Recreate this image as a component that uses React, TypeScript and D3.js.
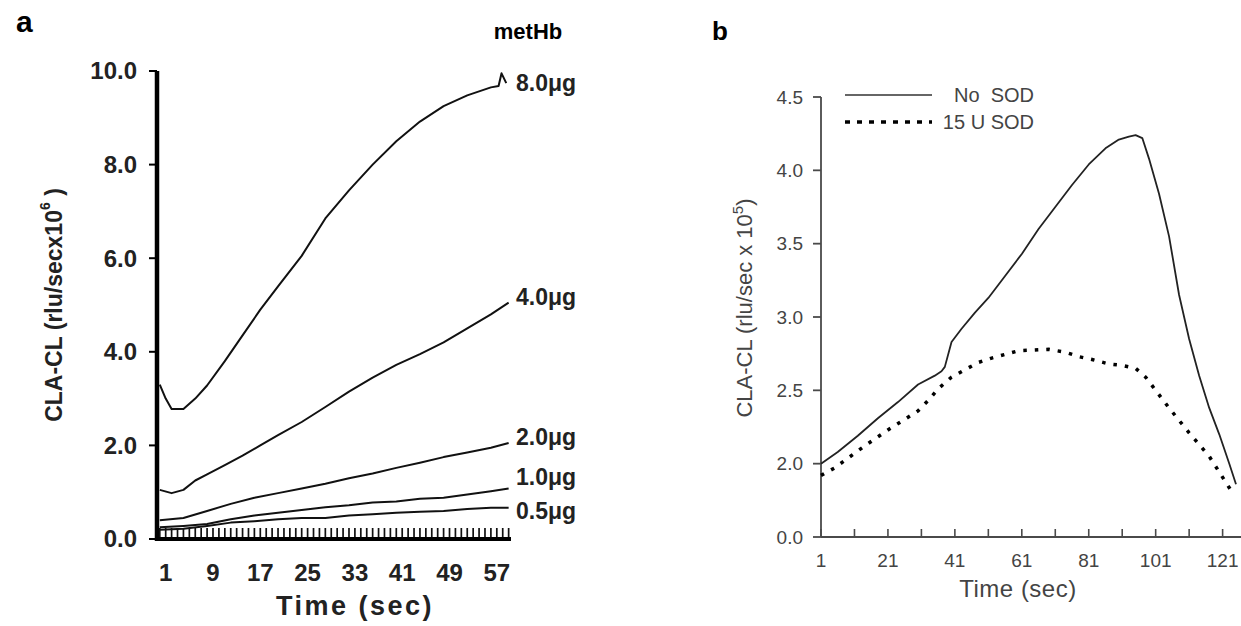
import React from "react";
import * as d3 from "d3";

// ---- panel a : metHb dose series ----
const doseLabels = ["8.0μg", "4.0μg", "2.0μg", "1.0μg", "0.5μg"];
const t8 = [0, 1, 2, 4, 6, 8, 11, 14, 17, 20, 24, 28, 30, 32, 36, 40, 44, 48, 52, 56, 57.3, 57.8, 58.6];
const v8 = [3.3, 3.0, 2.78, 2.78, 3.0, 3.28, 3.8, 4.35, 4.9, 5.4, 6.05, 6.85, 7.15, 7.45, 8.0, 8.5, 8.92, 9.25, 9.48, 9.65, 9.68, 9.95, 9.74];
const t4 = [0, 2, 4, 6, 8, 11, 14, 17, 20, 24, 28, 32, 36, 40, 44, 48, 52, 56, 59];
const v4 = [1.05, 0.98, 1.05, 1.25, 1.38, 1.58, 1.78, 2.0, 2.22, 2.5, 2.82, 3.15, 3.45, 3.72, 3.95, 4.2, 4.5, 4.8, 5.05];
const tLow = [0, 4, 8, 12, 16, 20, 24, 28, 32, 36, 40, 44, 48, 52, 56, 59];
const v2 = [0.4, 0.45, 0.6, 0.75, 0.88, 0.98, 1.08, 1.18, 1.3, 1.4, 1.52, 1.63, 1.75, 1.85, 1.95, 2.05];
const v1 = [0.25, 0.28, 0.32, 0.42, 0.5, 0.56, 0.62, 0.68, 0.72, 0.78, 0.8, 0.86, 0.88, 0.95, 1.02, 1.08];
const v05 = [0.2, 0.22, 0.28, 0.35, 0.38, 0.42, 0.45, 0.45, 0.5, 0.53, 0.56, 0.58, 0.6, 0.64, 0.67, 0.67];
const yTicksA = [0, 2, 4, 6, 8, 10];
const xTicksA = [1, 9, 17, 25, 33, 41, 49, 57];

// ---- panel b : SOD ----
const tNoSod = [1, 6, 12, 18, 24, 30, 35, 37, 38, 40, 43, 47, 51, 56, 61, 66, 71, 76, 81, 86, 90, 93, 95, 97, 99, 102, 105, 108, 111, 114, 117, 120, 123, 125];
const vNoSod = [2.0, 2.08, 2.19, 2.31, 2.42, 2.54, 2.6, 2.63, 2.66, 2.83, 2.92, 3.03, 3.13, 3.28, 3.43, 3.6, 3.75, 3.9, 4.04, 4.15, 4.21, 4.23, 4.24, 4.22, 4.08, 3.84, 3.55, 3.15, 2.85, 2.6, 2.38, 2.2, 2.0, 1.86];
const tSod = [1, 5, 14, 21, 30, 33, 36, 40, 44, 48, 52, 60, 69, 74, 78, 82, 87, 91, 95, 98, 101, 105, 111, 117, 124];
const vSod = [1.92, 1.97, 2.12, 2.23, 2.36, 2.43, 2.51, 2.59, 2.64, 2.69, 2.72, 2.77, 2.78, 2.76, 2.73, 2.71, 2.68, 2.67, 2.65, 2.59, 2.5, 2.38, 2.21, 2.05, 1.8];
const yTicksB = [2.0, 2.5, 3.0, 3.5, 4.0, 4.5];
const xTicksB = [1, 21, 41, 61, 81, 101, 121];
const legendB = ["No  SOD", "15 U SOD"];

const FONT = "'Liberation Sans', Arial, sans-serif";

export default function App() {
  // panel a scales
  const xA = d3.scaleLinear().domain([-0.47, 59.4]).range([157, 511]);
  const yA = d3.scaleLinear().domain([0, 10]).range([539, 71]);
  const lineA = d3.line<[number, number]>().x(d => xA(d[0])).y(d => yA(d[1]));
  const seriesA = [
    d3.zip(t8, v8),
    d3.zip(t4, v4),
    d3.zip(tLow, v2),
    d3.zip(tLow, v1),
    d3.zip(tLow, v05),
  ] as [number, number][][];
  const labelNudge = [0, -6, -6, -12, 3];
  const minorA = d3.range(0, 60, 1);
  const x0 = xA.range()[0];

  // panel b scales: broken axis, the bottom of the plot is labelled 0.0
  const xB = d3.scaleLinear().domain([1, 125]).range([821, 1236]);
  const yB = d3.scaleLinear().domain([1.5, 4.5]).range([537, 97]);
  const yBottom = yB.range()[0];
  const lineB = d3.line<[number, number]>().x(d => xB(d[0])).y(d => yB(d[1]));
  const noSod = d3.zip(tNoSod, vNoSod) as [number, number][];
  const sod = d3.zip(tSod, vSod) as [number, number][];
  const minorB = d3.range(1, 125, 10);
  const grey = "#4a4a4a";

  return (
    <svg width={1241} height={626} style={{ display: "block", position: "absolute", left: 0, top: 0, background: "#fff" }} fontFamily={FONT}>
      {/* ---------- panel a ---------- */}
      <text x={16} y={32} fontSize={30} fontWeight="bold">a</text>
      <text x={528} y={39} fontSize={22} fontWeight="bold" textAnchor="middle">metHb</text>

      {minorA.map(t => (
        <line key={"m" + t} x1={xA(t)} x2={xA(t)} y1={yA(0)} y2={yA(0) - 11} stroke="#111" strokeWidth={1.7} />
      ))}
      <line x1={x0} x2={xA.range()[1]} y1={yA(0)} y2={yA(0)} stroke="#000" strokeWidth={4} />
      <line x1={x0} x2={x0} y1={yA(10)} y2={yA(0) + 2} stroke="#000" strokeWidth={4.5} />
      {yTicksA.map(v => (
        <g key={"ya" + v}>
          <line x1={x0 - 8} x2={x0} y1={yA(v)} y2={yA(v)} stroke="#000" strokeWidth={2} />
          <text x={x0 - 20} y={yA(v)} dy="0.35em" textAnchor="end" fontSize={24} fontWeight="bold" fill="#222">
            {v.toFixed(1)}
          </text>
        </g>
      ))}
      {xTicksA.map(t => (
        <text key={"xa" + t} x={xA(t)} y={581} textAnchor="middle" fontSize={24} fontWeight="bold" fill="#222">{t}</text>
      ))}
      <text x={355} y={615} textAnchor="middle" fontSize={27} fontWeight="bold" letterSpacing={2.5} fill="#222">Time (sec)</text>
      <text transform="translate(62,305) rotate(-90)" textAnchor="middle" fontSize={23} fontWeight="bold" fill="#222">
        CLA-CL (rlu/secx10<tspan dy={-12} fontSize={14}>6</tspan><tspan dy={12}> )</tspan>
      </text>

      {seriesA.map((s, i) => (
        <path key={"sa" + i} d={lineA(s) || ""} fill="none" stroke="#111" strokeWidth={2} strokeLinejoin="round" />
      ))}
      {seriesA.map((s, i) => (
        <text key={"la" + i} x={xA(59.4) + 5} y={yA(s[s.length - 1][1]) + labelNudge[i]} dy="0.35em" fontSize={23} fontWeight="bold" fill="#222">
          {doseLabels[i]}
        </text>
      ))}

      {/* ---------- panel b ---------- */}
      <text x={712} y={40} fontSize={26} fontWeight="bold">b</text>

      <line x1={xB(1)} x2={xB(1)} y1={yB(4.5)} y2={yBottom} stroke={grey} strokeWidth={1.8} />
      <line x1={xB(1)} x2={1241} y1={yBottom} y2={yBottom} stroke={grey} strokeWidth={1.8} />
      {yTicksB.map(v => (
        <g key={"yb" + v}>
          <line x1={xB(1) - 8} x2={xB(1)} y1={yB(v)} y2={yB(v)} stroke={grey} strokeWidth={1.8} />
          <text x={xB(1) - 18} y={yB(v)} dy="0.35em" textAnchor="end" fontSize={19} fill="#444">{v.toFixed(1)}</text>
        </g>
      ))}
      <line x1={xB(1) - 8} x2={xB(1)} y1={yBottom} y2={yBottom} stroke={grey} strokeWidth={1.8} />
      <text x={xB(1) - 18} y={yBottom} dy="0.35em" textAnchor="end" fontSize={19} fill="#444">0.0</text>
      {minorB.map(t => (
        <line key={"mb" + t} x1={xB(t)} x2={xB(t)} y1={yBottom} y2={yBottom - 8} stroke={grey} strokeWidth={1.6} />
      ))}
      {xTicksB.map(t => (
        <text key={"xb" + t} x={xB(t)} y={567} textAnchor="middle" fontSize={19} fill="#444">{t}</text>
      ))}
      <text x={1018} y={597} textAnchor="middle" fontSize={24} fill="#444" letterSpacing={0.5}>Time (sec)</text>
      <text transform="translate(752,308) rotate(-90)" textAnchor="middle" fontSize={22} fill="#444">
        CLA-CL (rlu/sec x 10<tspan dy={-9} fontSize={15}>5</tspan><tspan dy={9}>)</tspan>
      </text>

      <path d={lineB(noSod) || ""} fill="none" stroke="#222" strokeWidth={1.8} strokeLinejoin="round" />
      <path d={lineB(sod) || ""} fill="none" stroke="#000" strokeWidth={3.5} strokeDasharray="3.5 8" />

      {/* legend */}
      <line x1={845} x2={932} y1={95} y2={95} stroke="#666" strokeWidth={2} />
      <text x={1034} y={95} dy="0.35em" textAnchor="end" fontSize={20} fill="#444" style={{ whiteSpace: "pre" }}>{legendB[0]}</text>
      <line x1={845} x2={932} y1={122} y2={122} stroke="#000" strokeWidth={3.5} strokeDasharray="5 7" />
      <text x={1034} y={122} dy="0.35em" textAnchor="end" fontSize={20} fill="#444">{legendB[1]}</text>
    </svg>
  );
}
